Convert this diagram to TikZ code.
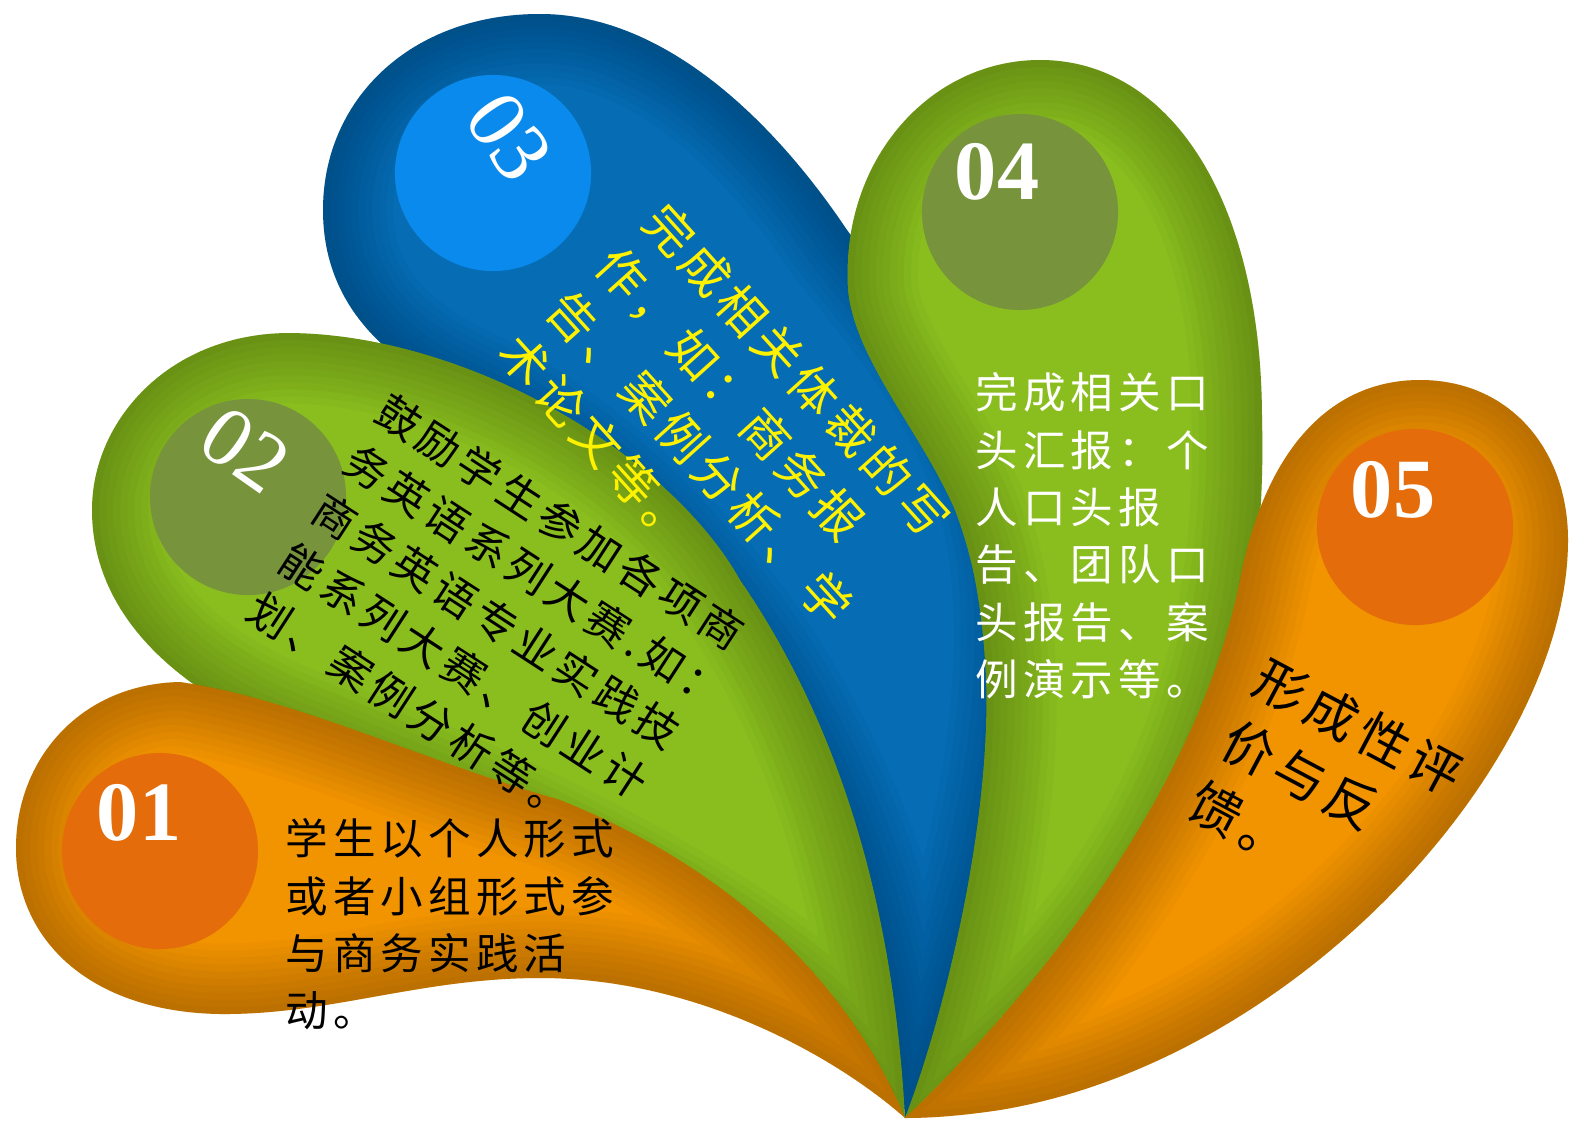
\documentclass[tikz,border=0pt]{standalone}
\usepackage{fontspec}
\setmainfont{Liberation Serif}
\newfontfamily\cjk{Noto Sans CJK SC}[LetterSpace=12]

\definecolor{petalorange}{HTML}{F29400}
\definecolor{discorange}{HTML}{E46C0A}
\definecolor{petalgreen}{HTML}{8ABE1E}
\definecolor{discolive}{HTML}{77933C}
\definecolor{petalblue}{HTML}{066CB4}
\definecolor{discblue}{HTML}{0A8AEC}

% darken a petal towards its rim
\newcommand{\edgeshade}[1]{%
  \begin{scope}
    \clip #1;
    \foreach \w in {40,36,32,28,24,20,16,12,8,4}
      \draw[black, opacity=0.022, line width=\w pt] #1;
  \end{scope}}

\begin{document}
\begin{tikzpicture}[x=0.01cm, y=-0.01cm,
    disc/.style={circle, minimum size=1.96cm, inner sep=0pt},
    numlabel/.style={text=white, inner sep=0pt, font=\fontsize{24pt}{24pt}\selectfont},
    smalltext/.style={inner sep=0pt, align=left, anchor=north west, font={\cjk\fontsize{12.1pt}{16.3pt}\selectfont}}]
        \useasboundingbox (0,0) rectangle (1570,1124);

        % Petal outlines
        \def\petalone{(905,1118) .. controls (860,1010) and (760,880) .. (560,800) .. controls (420,760) and (300,700) .. (180,682) .. controls (80,684) and (15,760) .. (16,850) .. controls (17,940) and (90,1012) .. (220,1014) .. controls (330,1015) and (420,978) .. (540,978) .. controls (700,978) and (840,1060) .. (905,1118) -- cycle}
        \def\petaltwo{(905,1118) .. controls (895,930) and (850,740) .. (740,580) .. controls (670,455) and (470,335) .. (290,333) .. controls (170,333) and (92,420) .. (92,510) .. controls (92,610) and (170,690) .. (300,740) .. controls (500,820) and (800,950) .. (905,1118) -- cycle}
        \def\petalthree{(905,1118) .. controls (980,950) and (1040,750) .. (1020,560) .. controls (1000,400) and (900,300) .. (847,230) .. controls (780,130) and (670,14) .. (540,14) .. controls (410,14) and (323,100) .. (323,210) .. controls (323,300) and (380,360) .. (470,400) .. controls (700,520) and (880,800) .. (905,1118) -- cycle}
        \def\petalfour{(905,1118) .. controls (950,1000) and (995,800) .. (985,660) .. controls (980,590) and (970,550) .. (955,510) .. controls (920,430) and (855,360) .. (848,290) .. controls (840,160) and (930,60) .. (1040,60) .. controls (1170,60) and (1262,200) .. (1262,420) .. controls (1270,720) and (1150,960) .. (905,1118) -- cycle}
        \def\petalfive{(905,1118) .. controls (1050,980) and (1200,780) .. (1240,580) .. controls (1265,450) and (1330,380) .. (1420,380) .. controls (1510,380) and (1568,450) .. (1568,540) .. controls (1568,760) and (1300,1060) .. (1000,1110) .. controls (960,1116) and (930,1118) .. (905,1118) -- cycle}

        % Back petals first
        \fill[petalblue] \petalthree;
        \edgeshade{\petalthree}
        \fill[petalgreen] \petalfour;
        \edgeshade{\petalfour}
        \fill[petalgreen] \petaltwo;
        \edgeshade{\petaltwo}
        \fill[petalorange] \petalfive;
        \edgeshade{\petalfive}
        \fill[petalorange] \petalone;
        \edgeshade{\petalone}

        % Number discs
        \node[disc, fill=discorange] (d1) at (160,851) {};
        \node[disc, fill=discolive] (d2) at (248,497) {};
        \node[disc, fill=discblue] (d3) at (493,173) {};
        \node[disc, fill=discolive] (d4) at (1020,212) {};
        \node[disc, fill=discorange] (d5) at (1415,527) {};

        \node[numlabel, font=\fontsize{24pt}{24pt}\selectfont\bfseries] (n1) at (139,813) {01};
        \node[numlabel, rotate=-35] (n2) at (245,450) {02};
        \node[numlabel, rotate=-55] (n3) at (509,137) {03};
        \node[numlabel, font=\fontsize{24pt}{24pt}\selectfont\bfseries] (n4) at (997,172) {04};
        \node[numlabel, font=\fontsize{24pt}{24pt}\selectfont\bfseries] (n5) at (1393,490) {05};

        % Petal texts
        \node[smalltext] (t1) at (285,818) {学生以个人形式\\或者小组形式参\\与商务实践活\\动。};
        \node[smalltext, text=white] (t4) at (975,372) {完成相关口\\头汇报：个\\人口头报\\告、团队口\\头报告、案\\例演示等。};
        \node[smalltext, rotate=-33, font={\cjk\fontsize{12.2pt}{16.8pt}\selectfont}] (t2) at (392,388)
            {鼓励学生参加各项商\\务英语系列大赛.如：\\商务英语专业实践技\\能系列大赛、创业计\\划、案例分析等。};
        \node[smalltext, rotate=-48, text=yellow, font={\cjk\fontsize{13.7pt}{18.5pt}\selectfont}] (t3) at (671,196)
            {完成相关体裁的写\\作，如：商务报\\告、案例分析、学\\术论文等。};
        \node[smalltext, rotate=-28, font={\cjk\fontsize{14.7pt}{19.9pt}\selectfont}] (t5) at (1270,652)
            {形成性评\\价与反\\馈。};
      \end{tikzpicture}
\end{document}
